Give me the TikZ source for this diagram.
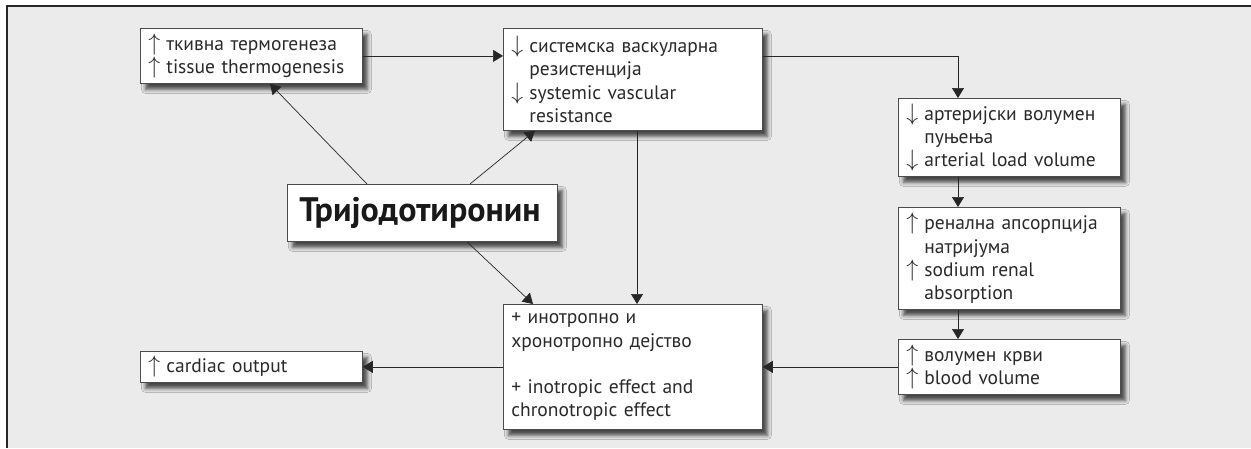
\documentclass[tikz,border=0pt]{standalone}
\usepackage{fontspec}
\setmainfont{PT Sans}
\usetikzlibrary{arrows.meta,shadows.blur,calc}
\definecolor{bg}{HTML}{EAEBEA}
\definecolor{ink}{HTML}{2A2A2A}
\newcommand\up{\makebox[18pt][l]{\scalebox{1.15}{$\uparrow$}}}
\newcommand\dn{\makebox[18pt][l]{\scalebox{1.15}{$\downarrow$}}}
\newcommand\ind{\hspace*{18pt}}
\tikzset{
  box/.style={draw=black!70, line width=0.8pt, fill=white, anchor=north west,
    inner xsep=8pt, inner ysep=0pt, align=left, text=ink,
    font=\fontsize{19.5}{23.3}\selectfont,
    blur shadow={shadow xshift=5pt, shadow yshift=-6pt, shadow blur radius=4pt, shadow opacity=70}},
  conn/.style={draw=black!85, line width=0.7pt, -{Triangle[length=10pt,width=12pt]}},
}
\begin{document}
\begin{tikzpicture}[x=1pt,y=-1pt]
\useasboundingbox (0,0) rectangle (1251,448);
\fill[bg] (7,6) rectangle (1251,448);
\draw[line width=1.4pt, black!85] (7,448) -- (7,6) -- (1251,6);

\node[box, text width=206pt, minimum height=55pt] (thermo) at (140,28)
  {\up ткивна термогенеза\\\up tissue thermogenesis};
\node[box, text width=243pt, minimum height=102pt] (svr) at (503,28)
  {\dn системска васкуларна\\\ind резистенција\\\dn systemic vascular\\\ind resistance};
\node[box, text width=206pt, minimum height=78pt] (art) at (898,98)
  {\dn артеријски волумен\\\ind пуњења\\\dn arterial load volume};
\node[box, text width=206pt, minimum height=102pt] (ren) at (898,207)
  {\up ренална апсорпција\\\ind натријума\\\up sodium renal\\\ind absorption};
\node[box, text width=206pt, minimum height=55pt] (blood) at (898,339)
  {\up волумен крви\\\up blood volume};
\node[box, text width=243pt, minimum height=125pt] (ino) at (503,304)
  {+ инотропно и\\хронотропно дејство\\[23.3pt]+ inotropic effect and\\chronotropic effect};
\node[box, text width=206pt, minimum height=31pt] (card) at (140,351)
  {\up cardiac output};
\node[box, text width=254pt, minimum height=57pt, inner xsep=8pt,
  font=\fontsize{34}{38}\selectfont\bfseries, text=black!90] (t3) at (287,184)
  {\hspace*{4pt}Тријодотиронин};

\draw[conn] (thermo.east) -- (thermo.east -| svr.west);
\draw[conn] (thermo.east -| svr.east) -| ($(art.north west)+(60,0)$);
\draw[conn] ($(art.south west)+(60,0)$) -- ($(ren.north west)+(60,0)$);
\draw[conn] ($(ren.south west)+(60,0)$) -- ($(blood.north west)+(60,0)$);
\draw[conn] (blood.west) -- (blood.west -| ino.east);
\draw[conn] (ino.west) -- (ino.west -| card.east);
\draw[conn] ($(svr.south west)+(134,0)$) -- ($(ino.north west)+(134,0)$);
\draw[conn] ($(t3.north west)+(80,0)$) -- ($(thermo.south west)+(130,0)$);
\draw[conn] ($(t3.north west)+(183,0)$) -- ($(svr.south west)+(32,0)$);
\draw[conn] ($(t3.south west)+(180,0)$) -- ($(ino.north west)+(30,0)$);
\end{tikzpicture}
\end{document}
